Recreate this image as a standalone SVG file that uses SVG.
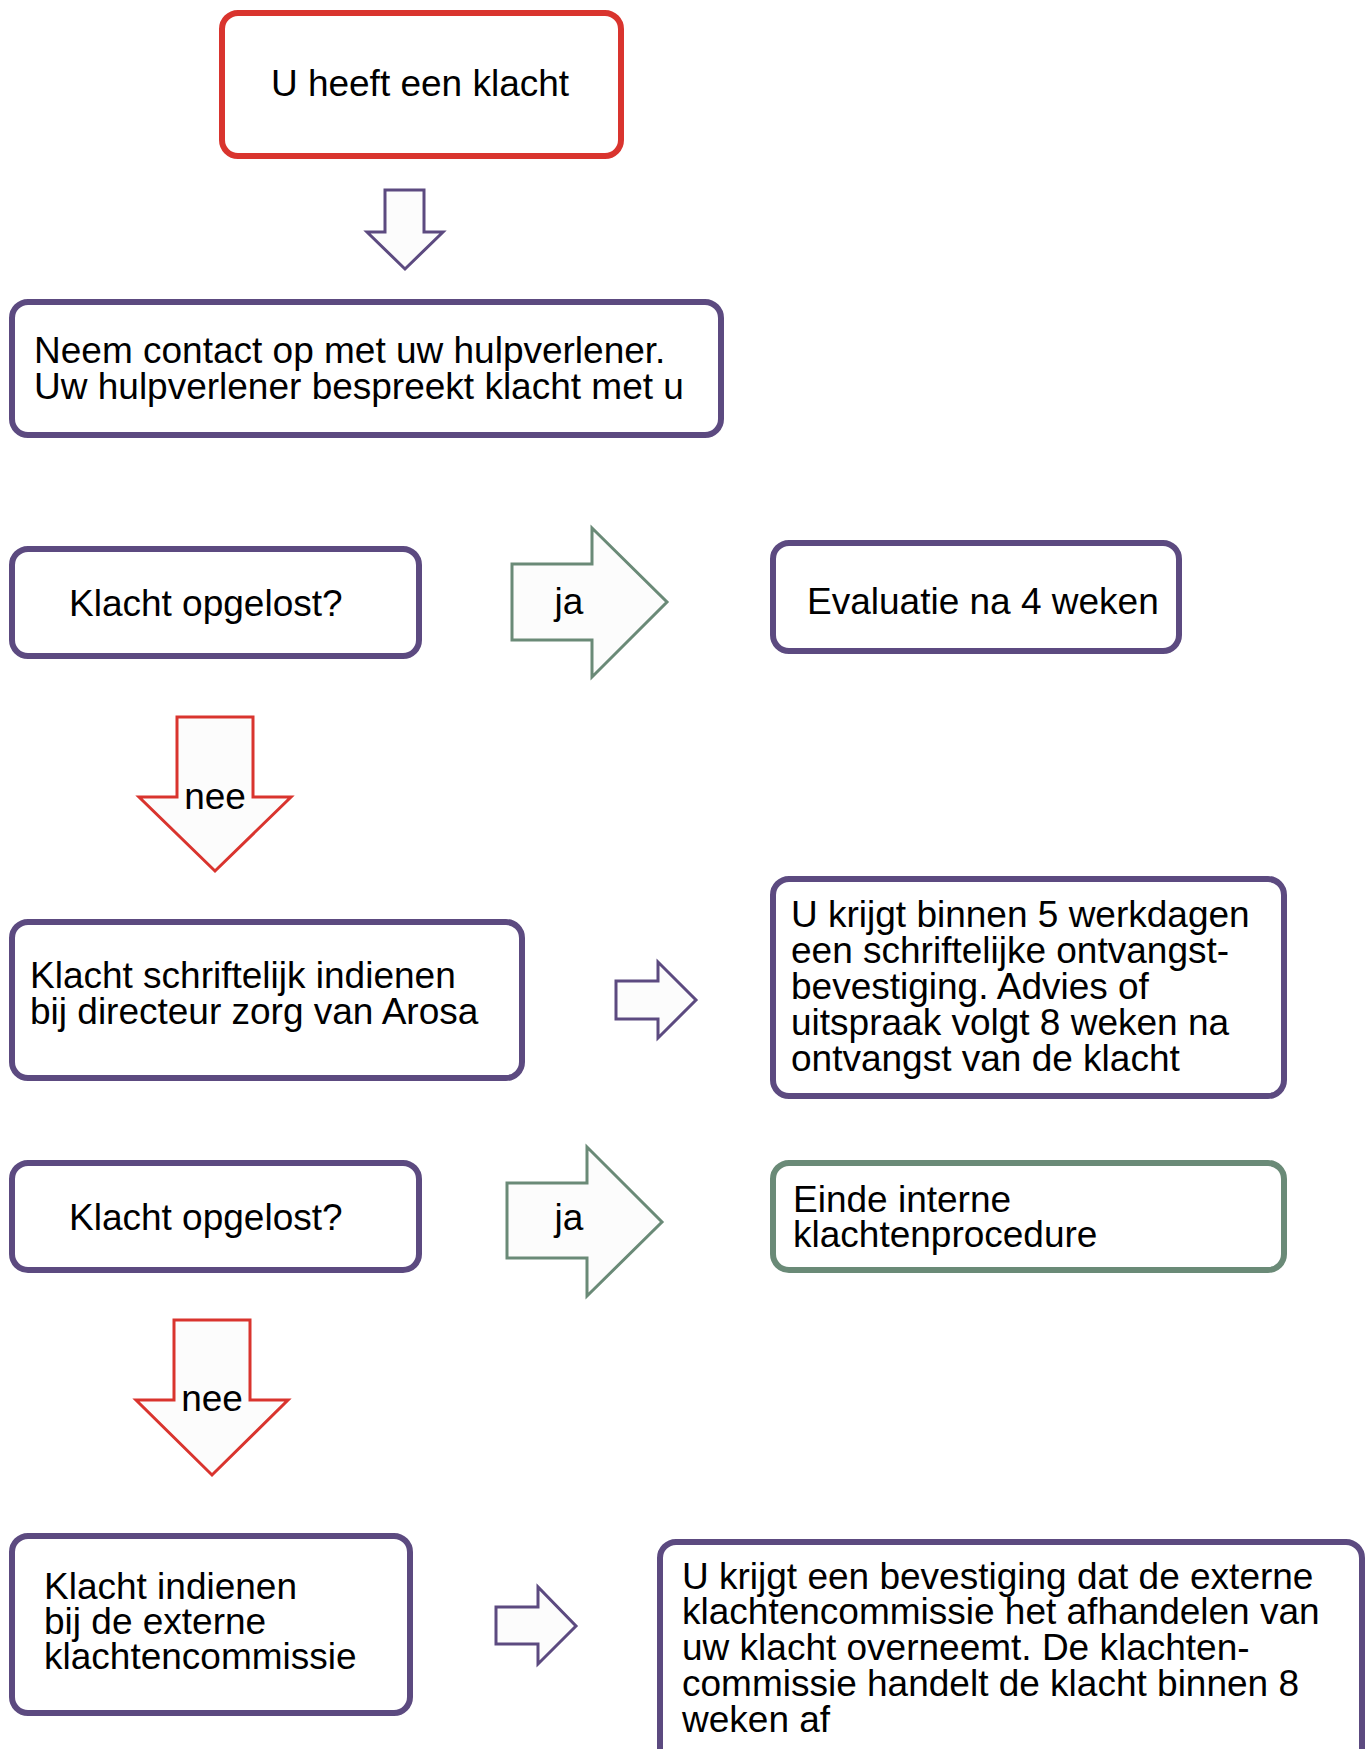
<svg xmlns="http://www.w3.org/2000/svg" width="1369" height="1749" viewBox="0 0 1369 1749">
<style>
.box{fill:#ffffff;stroke-width:6}
.red{stroke:#d9342e}
.pur{stroke:#5c4a80}
.grn{stroke:#6a8a77}
.arr{fill:#fcfcfc;stroke-width:3}
text{font-family:"Liberation Sans",Arial,sans-serif;font-size:37px;fill:#000}
.c{text-anchor:middle}
</style>
<rect width="1369" height="1749" fill="#ffffff"/>
<g id="n1"><rect class="box red" x="222" y="13" width="399" height="143" rx="16"/><text x="420" y="96" class="c">U heeft een klacht</text></g>
<g id="n2"><rect class="box pur" x="12" y="302" width="709" height="133" rx="16"/><text x="34" y="363">Neem contact op met uw hulpverlener.</text><text x="34" y="399">Uw hulpverlener bespreekt klacht met u</text></g>
<g id="n3"><rect class="box pur" x="12" y="549" width="407" height="107" rx="16"/><text x="69" y="616">Klacht opgelost?</text></g>
<g id="n4"><rect class="box pur" x="773" y="543" width="406" height="108" rx="16"/><text x="807" y="614">Evaluatie na 4 weken</text></g>
<g id="n5"><rect class="box pur" x="12" y="922" width="510" height="156" rx="16"/><text x="30" y="988">Klacht schriftelijk indienen</text><text x="30" y="1024">bij directeur zorg van Arosa</text></g>
<g id="n6"><rect class="box pur" x="773" y="879" width="511" height="217" rx="16"/><text x="791" y="927">U krijgt binnen 5 werkdagen</text><text x="791" y="963">een schriftelijke ontvangst-</text><text x="791" y="999">bevestiging. Advies of</text><text x="791" y="1035">uitspraak volgt 8 weken na</text><text x="791" y="1071">ontvangst van de klacht</text></g>
<g id="n7"><rect class="box pur" x="12" y="1163" width="407" height="107" rx="16"/><text x="69" y="1230">Klacht opgelost?</text></g>
<g id="n8"><rect class="box grn" x="773" y="1163" width="511" height="107" rx="16"/><text x="793" y="1212">Einde interne</text><text x="793" y="1247">klachtenprocedure</text></g>
<g id="n9"><rect class="box pur" x="12" y="1536" width="398" height="177" rx="16"/><text x="44" y="1599">Klacht indienen</text><text x="44" y="1634">bij de externe</text><text x="44" y="1669">klachtencommissie</text></g>
<g id="n10"><rect class="box pur" x="660" y="1542" width="702" height="240" rx="16"/><text x="682" y="1589">U krijgt een bevestiging dat de externe</text><text x="682" y="1624">klachtencommissie het afhandelen van</text><text x="682" y="1660">uw klacht overneemt. De klachten-</text><text x="682" y="1696">commissie handelt de klacht binnen 8</text><text x="682" y="1732">weken af</text></g>
<g id="connectors">
<polygon class="arr pur" points="385,190 424,190 424,232 443,232 405,269 367,232 385,232"/>
<polygon class="arr grn" points="512,564 592,564 592,528 667,602 592,677 592,640 512,640"/>
<text x="569" y="614" class="c">ja</text>
<polygon class="arr red" points="177,717 253,717 253,797 291,797 215,871 139,797 177,797"/>
<text x="215" y="809" class="c">nee</text>
<polygon class="arr pur" points="616,981 658,981 658,962 696,1000 658,1038 658,1019 616,1019"/>
<polygon class="arr grn" points="507,1183 587,1183 587,1147 662,1222 587,1296 587,1258 507,1258"/>
<text x="569" y="1230" class="c">ja</text>
<polygon class="arr red" points="174,1320 250,1320 250,1400 288,1400 212,1475 136,1400 174,1400"/>
<text x="212" y="1411" class="c">nee</text>
<polygon class="arr pur" points="496,1607 538,1607 538,1587 576,1626 538,1664 538,1644 496,1644"/>
</g>
</svg>
